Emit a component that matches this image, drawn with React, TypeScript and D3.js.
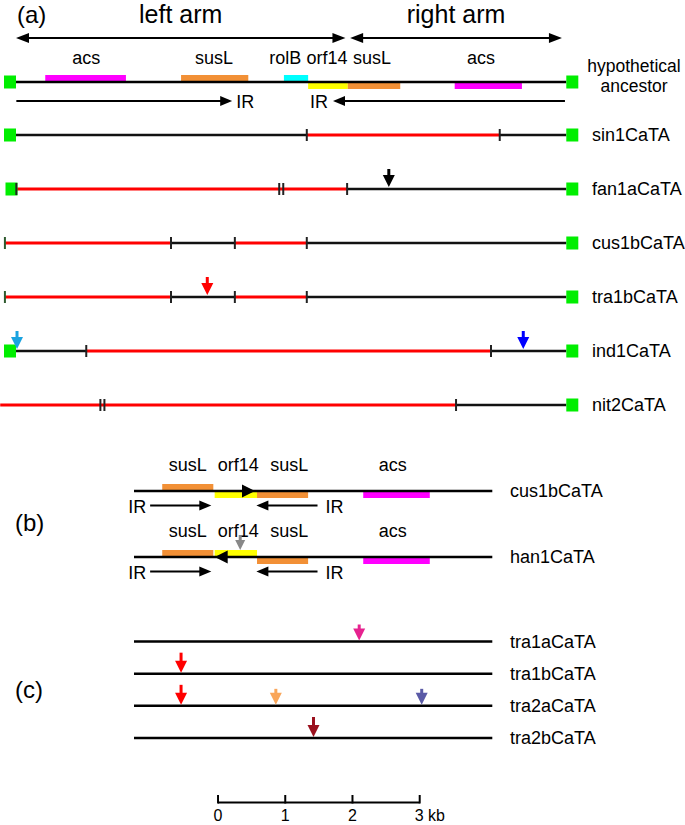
import React from "react";
import * as d3 from "d3";

const FONT = "'Liberation Sans', Arial, Helvetica, sans-serif";

// ---------- Panel (a) data (kb from left end of the ancestor) ----------
const ancestorLength = 8.2;
const armNames = ["left arm", "right arm"];
const armStarts = [0.0, 4.97];
const armEnds = [4.93, 8.15];

const geneTypesA = ["acs", "susL", "rolB", "orf14", "susL", "acs"];
const geneStartsA = [0.45, 2.47, 4.0, 4.36, 4.95, 6.54];
const geneEndsA = [1.65, 3.47, 4.36, 4.95, 5.73, 7.54];
const geneAboveA = [true, true, true, false, false, false];
const geneLabelPosA = [1.06, 2.96, 4.02, 4.64, 5.31, 6.93];

const irFromA = [0.02, 8.18];
const irToA = [3.23, 4.73];

const rowNamesA = ["sin1CaTA", "fan1aCaTA", "cus1bCaTA", "tra1bCaTA", "ind1CaTA", "nit2CaTA"];
const rowSegStartsA = [
  [0, 4.34, 7.21],
  [0.02, 4.94],
  [-0.15, 2.32, 3.27, 4.34],
  [-0.15, 2.32, 3.27, 4.34],
  [0, 1.06, 7.08],
  [-0.22, 6.56],
];
const rowSegEndsA = [
  [4.34, 7.21, 8.2],
  [4.94, 8.2],
  [2.32, 3.27, 4.34, 8.2],
  [2.32, 3.27, 4.34, 8.2],
  [1.06, 7.08, 8.2],
  [6.56, 8.2],
];
const rowSegRedA = [
  [false, true, false],
  [true, false],
  [true, false, true, false],
  [true, false, true, false],
  [false, true, false],
  [true, false],
];
const rowTicksA = [
  [4.34, 7.21],
  [0.02, 3.93, 3.99, 4.94],
  [-0.15, 2.32, 3.27, 4.34],
  [-0.15, 2.32, 3.27, 4.34],
  [1.06, 7.08],
  [1.27, 1.33, 6.56],
];
const rowLeftSquareA = [true, true, false, false, true, false];

const mutRowA = ["fan1aCaTA", "tra1bCaTA", "ind1CaTA", "ind1CaTA"];
const mutPosA = [5.56, 2.86, 0.03, 7.56];
const mutColorA = ["#000000", "#ff0000", "#1aa3e0", "#0000ff"];

// ---------- Panel (b) data (kb from left end of line) ----------
const lengthB = 5.33;
const rowNamesB = ["cus1bCaTA", "han1CaTA"];
const geneTypesB = ["susL", "orf14", "susL", "acs"];
const geneStartsB = [0.42, 1.2, 1.83, 3.41];
const geneEndsB = [1.18, 1.83, 2.59, 4.4];
const geneAboveB = [
  [true, false, false, false],
  [true, true, false, false],
];
const geneLabelPosB = [0.8, 1.55, 2.31, 3.85];
const orientTipB = [1.8, 1.2];
const orientDirB = [1, -1];
const irFromB = [0.24, 2.73];
const irToB = [1.15, 1.82];
const mutRowB = ["han1CaTA"];
const mutPosB = [1.58];
const mutColorB = ["#888888"];

// ---------- Panel (c) data ----------
const rowNamesC = ["tra1aCaTA", "tra1bCaTA", "tra2aCaTA", "tra2bCaTA"];
const mutRowC = ["tra1aCaTA", "tra1bCaTA", "tra2aCaTA", "tra2aCaTA", "tra2aCaTA", "tra2bCaTA"];
const mutPosC = [3.35, 0.7, 0.7, 2.11, 4.28, 2.67];
const mutColorC = ["#e6228f", "#ff0000", "#ff0000", "#f9a65a", "#5a5aa6", "#9b111e"];
const mutLongC = [false, true, true, false, false, true];

// ---------- Scale bar ----------
const scaleOffsetKb = 1.25;
const scaleTicks = [0, 1, 2, 3];
const scaleTickLabels = ["0", "1", "2", "3 kb"];

const geneColor: Record<string, string> = {
  acs: "#ff00ff",
  susL: "#f29036",
  rolB: "#00ffff",
  orf14: "#ffff00",
};

const xA = d3.scaleLinear().domain([0, ancestorLength]).range([15, 566.3]);
const xB = d3.scaleLinear().domain([0, lengthB]).range([134, 492.3]);
const yA = d3.scalePoint<string>().domain(rowNamesA).range([135, 405]);
const yB = d3.scalePoint<string>().domain(rowNamesB).range([491, 557]);
const yC = d3.scalePoint<string>().domain(rowNamesC).range([641.5, 738]);
const ancestorY = 82;

function DownArrow({ x, tip, color, total = 18, head = 11, width = 11 }: any) {
  const p = d3.path();
  p.moveTo(x - width / 2, tip - head);
  p.lineTo(x + width / 2, tip - head);
  p.lineTo(x, tip);
  p.closePath();
  return (
    <g>
      <line x1={x} x2={x} y1={tip - total} y2={tip - head + 1} stroke={color} strokeWidth={3} />
      <path d={p.toString()} fill={color} />
    </g>
  );
}

function HArrow({ x1, x2, y, head = 12, half = 5, width = 2.2 }: any) {
  const dir = x2 > x1 ? 1 : -1;
  const p = d3.path();
  p.moveTo(x2, y);
  p.lineTo(x2 - dir * head, y - half);
  p.lineTo(x2 - dir * head, y + half);
  p.closePath();
  return (
    <g>
      <line x1={x1} x2={x2 - dir * head + dir} y1={y} y2={y} stroke="#000" strokeWidth={width} />
      <path d={p.toString()} fill="#000" />
    </g>
  );
}

function DoubleArrow({ x1, x2, y }: any) {
  const head = 13, half = 5;
  const p = d3.path();
  p.moveTo(x1, y);
  p.lineTo(x1 + head, y - half);
  p.lineTo(x1 + head, y + half);
  p.closePath();
  p.moveTo(x2, y);
  p.lineTo(x2 - head, y - half);
  p.lineTo(x2 - head, y + half);
  p.closePath();
  return (
    <g>
      <line x1={x1 + head - 1} x2={x2 - head + 1} y1={y} y2={y} stroke="#000" strokeWidth={2.2} />
      <path d={p.toString()} fill="#000" />
    </g>
  );
}

function GreenSquare({ x, y }: any) {
  return <rect x={x - 6} y={y - 6.5} width={12} height={13} fill="#00ee00" />;
}

export default function App() {
  const barH = 6;
  return (
    <svg
      width={685}
      height={825}
      style={{ position: "absolute", left: 0, top: 0, background: "#fff" }}
      fontFamily={FONT}
    >
      {/* ---------------- Panel (a) ---------------- */}
      <text x={17} y={23} fontSize={24}>(a)</text>
      {armNames.map((n, i) => (
        <g key={n}>
          <text x={xA((armStarts[i] + armEnds[i]) / 2)} y={23} fontSize={25} textAnchor="middle">{n}</text>
          <DoubleArrow x1={xA(armStarts[i]) + 1} x2={xA(armEnds[i]) - 1} y={38} />
        </g>
      ))}
      {geneTypesA.map((g, i) => (
        <g key={"ga" + i}>
          <rect
            x={xA(geneStartsA[i])}
            y={geneAboveA[i] ? ancestorY - barH - 1 : ancestorY + 1}
            width={xA(geneEndsA[i]) - xA(geneStartsA[i])}
            height={barH}
            fill={geneColor[g]}
          />
          <text x={xA(geneLabelPosA[i])} y={64} fontSize={18} textAnchor="middle">{g}</text>
        </g>
      ))}
      <line x1={xA(0)} x2={xA(ancestorLength)} y1={ancestorY} y2={ancestorY} stroke="#000" strokeWidth={2.5} />
      <GreenSquare x={xA(0) - 5} y={ancestorY} />
      <GreenSquare x={xA(ancestorLength) + 6} y={ancestorY} />
      {irFromA.map((f, i) => (
        <g key={"ira" + i}>
          <HArrow x1={xA(f)} x2={xA(irToA[i])} y={101} />
          <text
            x={irToA[i] > f ? xA(irToA[i]) + 4 : xA(irToA[i]) - 5}
            y={108}
            fontSize={18}
            textAnchor={irToA[i] > f ? "start" : "end"}
          >IR</text>
        </g>
      ))}
      <text x={634} y={72} fontSize={17.5} textAnchor="middle">hypothetical</text>
      <text x={634} y={92} fontSize={17.5} textAnchor="middle">ancestor</text>

      {rowNamesA.map((name, r) => {
        const y = yA(name)!;
        return (
          <g key={name}>
            {rowSegStartsA[r].map((s, k) => (
              <line
                key={k}
                x1={xA(s)}
                x2={xA(rowSegEndsA[r][k])}
                y1={y}
                y2={y}
                stroke={rowSegRedA[r][k] ? "#ff0000" : "#111"}
                strokeWidth={rowSegRedA[r][k] ? 3 : 2.5}
              />
            ))}
            {rowLeftSquareA[r] && <GreenSquare x={xA(0) - 5 + (name === "fan1aCaTA" ? 1.5 : 0)} y={y} />}
            <GreenSquare x={xA(ancestorLength) + 6} y={y} />
            {rowTicksA[r].map((t, k) => (
              <line
                key={"t" + k}
                x1={xA(t)}
                x2={xA(t)}
                y1={y - 6}
                y2={y + 6}
                stroke={t < 0 ? "#2f5a2f" : "#222"}
                strokeWidth={2}
              />
            ))}
            <text x={592} y={y + 6} fontSize={18}>{name}</text>
          </g>
        );
      })}
      {mutRowA.map((rn, i) => (
        <DownArrow
          key={"ma" + i}
          x={xA(mutPosA[i])}
          tip={yA(rn)! - 2}
          color={mutColorA[i]}
          total={18}
          head={12}
          width={12}
        />
      ))}

      {/* ---------------- Panel (b) ---------------- */}
      <text x={15} y={531} fontSize={24}>(b)</text>
      {rowNamesB.map((name, r) => {
        const y = yB(name)!;
        const dir = orientDirB[r];
        const tip = xB(orientTipB[r]);
        const tri = d3.path();
        tri.moveTo(tip, y);
        tri.lineTo(tip - dir * 13, y - 6.5);
        tri.lineTo(tip - dir * 13, y + 6.5);
        tri.closePath();
        return (
          <g key={name}>
            {geneTypesB.map((g, i) => (
              <g key={i}>
                <rect
                  x={xB(geneStartsB[i])}
                  y={geneAboveB[r][i] ? y - barH - 1 : y + 1}
                  width={xB(geneEndsB[i]) - xB(geneStartsB[i])}
                  height={barH}
                  fill={geneColor[g]}
                />
                <text x={xB(geneLabelPosB[i])} y={y - 20} fontSize={18} textAnchor="middle">{g}</text>
              </g>
            ))}
            <line x1={xB(0)} x2={xB(lengthB)} y1={y} y2={y} stroke="#000" strokeWidth={2.5} />
            <path d={tri.toString()} fill="#000" />
            {irFromB.map((f, i) => (
              <g key={"irb" + i}>
                <HArrow x1={xB(f)} x2={xB(irToB[i])} y={y + 14.5} />
                <text
                  x={irToB[i] > f ? xB(f) - 4 : xB(f) + 8}
                  y={y + 21.5}
                  fontSize={18}
                  textAnchor={irToB[i] > f ? "end" : "start"}
                >IR</text>
              </g>
            ))}
            <text x={510} y={y + 6} fontSize={18}>{name}</text>
          </g>
        );
      })}
      {mutRowB.map((rn, i) => (
        <DownArrow
          key={"mb" + i}
          x={xB(mutPosB[i])}
          tip={yB(rn)! - 7}
          color={mutColorB[i]}
          total={15}
          head={10}
          width={10}
        />
      ))}

      {/* ---------------- Panel (c) ---------------- */}
      <text x={15} y={698} fontSize={24}>(c)</text>
      {rowNamesC.map((name) => {
        const y = yC(name)!;
        return (
          <g key={name}>
            <line x1={xB(0)} x2={xB(lengthB)} y1={y} y2={y} stroke="#000" strokeWidth={2.5} />
            <text x={510} y={y + 6} fontSize={18}>{name}</text>
          </g>
        );
      })}
      {mutRowC.map((rn, i) => (
        <DownArrow
          key={"mc" + i}
          x={xB(mutPosC[i])}
          tip={yC(rn)! - 1}
          color={mutColorC[i]}
          total={mutLongC[i] ? 20 : 16}
          head={12}
          width={12}
        />
      ))}

      {/* ---------------- Scale bar ---------------- */}
      <g>
        <line
          x1={xB(scaleOffsetKb + scaleTicks[0])}
          x2={xB(scaleOffsetKb + scaleTicks[scaleTicks.length - 1])}
          y1={802.5}
          y2={802.5}
          stroke="#000"
          strokeWidth={2}
        />
        {scaleTicks.map((t, i) => (
          <g key={"s" + i}>
            <line
              x1={xB(scaleOffsetKb + t)}
              x2={xB(scaleOffsetKb + t)}
              y1={795}
              y2={803.5}
              stroke="#000"
              strokeWidth={2}
            />
            <text
              x={i === scaleTicks.length - 1 ? xB(scaleOffsetKb + t) - 5 : xB(scaleOffsetKb + t)}
              y={821}
              fontSize={16}
              textAnchor={i === scaleTicks.length - 1 ? "start" : "middle"}
            >{scaleTickLabels[i]}</text>
          </g>
        ))}
      </g>
    </svg>
  );
}
